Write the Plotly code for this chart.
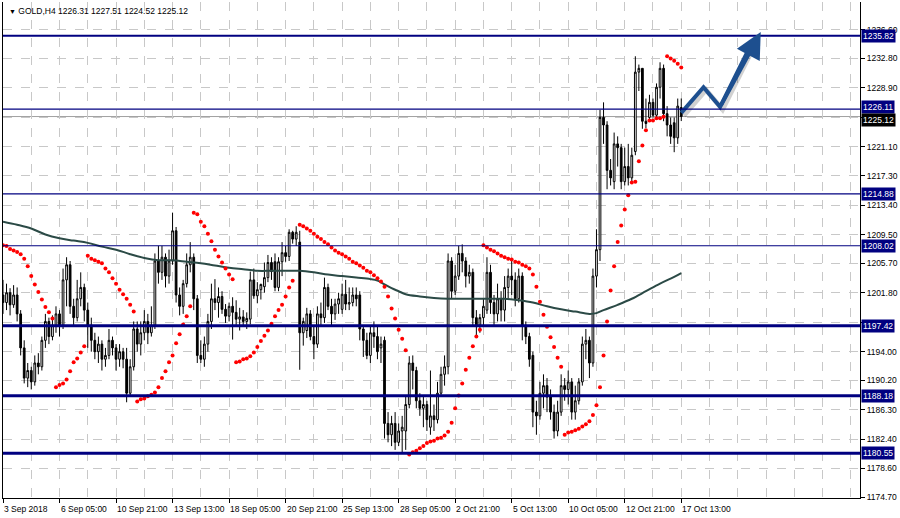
import plotly.graph_objects as go

# ---------------- data ----------------
x_labels = ["3 Sep 2018", "6 Sep 05:00", "10 Sep 21:00", "13 Sep 13:00", "18 Sep 05:00",
            "20 Sep 21:00", "25 Sep 13:00", "28 Sep 05:00", "2 Oct 21:00", "5 Oct 13:00",
            "10 Oct 05:00", "12 Oct 21:00", "17 Oct 13:00"]
x_label_bars = [0, 16, 32, 48, 64, 80, 96, 112, 128, 144, 160, 176, 192]

open_ = [1201.5, 1200.5, 1201.8, 1200.2, 1201.5, 1199.0, 1194.5, 1190.5, 1191.5, 1190.0,
         1192.5, 1192.0, 1195.5, 1198.0, 1196.0, 1197.5, 1199.0, 1197.5, 1203.5, 1205.5,
         1200.0, 1198.5, 1201.0, 1202.5, 1199.5, 1197.5, 1195.5, 1194.0, 1195.0, 1193.0,
         1193.5, 1195.5, 1194.5, 1193.0, 1194.0, 1193.0, 1188.5, 1192.0, 1197.0, 1195.0,
         1196.5, 1198.0, 1196.5, 1197.5, 1206.0, 1204.5, 1206.5, 1204.0, 1206.0, 1210.0,
         1201.5, 1200.0, 1203.0, 1205.5, 1206.5, 1201.0, 1193.5, 1193.0, 1195.0, 1198.0,
         1201.0, 1200.5, 1201.3, 1199.6, 1198.7, 1200.0, 1199.2, 1198.3, 1198.6, 1198.0,
         1198.3, 1203.5, 1201.4, 1202.2, 1202.6, 1203.8, 1205.8, 1205.9, 1202.5, 1205.9,
         1207.1, 1206.6, 1209.8, 1208.9, 1208.5, 1196.5, 1196.8, 1199.0, 1196.0, 1195.0,
         1199.0, 1198.5, 1202.5, 1200.0, 1199.0, 1200.3, 1199.6, 1201.6, 1200.3, 1200.5,
         1201.5, 1201.5, 1197.0, 1195.5, 1193.5, 1196.5, 1196.0, 1194.5, 1195.5, 1184.5,
         1183.0, 1184.5, 1182.0, 1183.5, 1183.5, 1187.0, 1192.5, 1191.5, 1187.5, 1186.5,
         1187.0, 1184.0, 1185.5, 1185.0, 1188.5, 1191.0, 1192.0, 1206.0, 1202.0, 1204.0,
         1207.0, 1206.0, 1204.0, 1204.5, 1198.5, 1197.5, 1198.5, 1199.5, 1204.5, 1200.5,
         1199.0, 1201.0, 1199.5, 1202.5, 1204.0, 1203.5, 1201.0, 1204.0, 1197.5, 1196.0,
         1193.5, 1186.0, 1185.5, 1188.5, 1189.5, 1188.0, 1186.0, 1183.5, 1186.0, 1189.5,
         1189.0, 1190.0, 1186.0, 1187.5, 1190.0, 1195.0, 1195.5, 1192.5, 1204.0, 1207.5,
         1225.0, 1224.0, 1218.0, 1216.5, 1221.5, 1221.0, 1216.5, 1218.5, 1217.0, 1220.5,
         1231.0, 1231.5, 1224.5, 1225.0, 1227.0, 1225.3, 1229.0, 1231.5, 1225.5, 1224.0,
         1224.3, 1222.3, 1226.31]
high = [1203.5, 1203.0, 1202.4, 1202.8, 1202.5, 1199.5, 1195.5, 1192.5, 1192.0, 1193.5,
        1193.8, 1196.0, 1199.0, 1198.5, 1198.8, 1200.0, 1199.5, 1205.0, 1206.5, 1206.0,
        1201.0, 1203.5, 1204.5, 1203.0, 1200.5, 1198.5, 1196.5, 1196.0, 1195.5, 1194.5,
        1197.0, 1196.0, 1195.0, 1195.0, 1194.5, 1194.5, 1193.0, 1198.0, 1198.0, 1198.0,
        1199.5, 1199.0, 1200.0, 1207.0, 1208.0, 1208.0, 1207.0, 1207.5, 1212.4, 1210.5,
        1202.5, 1203.5, 1207.0, 1208.5, 1207.0, 1201.5, 1195.5, 1196.0, 1199.0, 1203.0,
        1203.6, 1202.5, 1202.0, 1200.3, 1200.5, 1201.2, 1200.8, 1199.8, 1199.5, 1199.2,
        1204.6, 1205.0, 1203.2, 1203.0, 1205.8, 1206.8, 1206.5, 1207.0, 1206.5, 1208.5,
        1208.0, 1210.2, 1210.0, 1210.6, 1210.0, 1198.5, 1199.8, 1199.5, 1197.5, 1200.0,
        1200.5, 1203.8, 1203.0, 1201.0, 1201.0, 1201.8, 1203.0, 1203.5, 1202.5, 1202.5,
        1202.5, 1202.0, 1197.5, 1196.5, 1197.5, 1198.0, 1197.5, 1196.0, 1196.0, 1186.0,
        1185.5, 1186.0, 1184.5, 1185.5, 1188.0, 1193.4, 1193.5, 1192.0, 1188.5, 1188.0,
        1187.5, 1191.5, 1187.0, 1190.0, 1192.0, 1193.5, 1207.0, 1206.5, 1205.5, 1208.0,
        1208.2, 1206.5, 1205.5, 1205.0, 1199.5, 1199.0, 1201.0, 1206.5, 1205.5, 1201.5,
        1203.0, 1202.0, 1204.0, 1205.0, 1206.0, 1204.5, 1205.0, 1204.5, 1198.0, 1196.5,
        1194.0, 1187.5, 1190.0, 1191.0, 1190.5, 1189.0, 1187.0, 1187.5, 1191.0, 1190.5,
        1191.5, 1190.5, 1189.5, 1190.5, 1196.0, 1197.0, 1196.0, 1205.0, 1210.2, 1226.0,
        1227.0, 1224.5, 1219.5, 1223.0, 1222.5, 1221.5, 1221.0, 1221.5, 1221.0, 1233.1,
        1232.0, 1231.5, 1227.5, 1228.0, 1227.5, 1229.5, 1232.3, 1232.0, 1226.5, 1225.0,
        1225.0, 1227.5, 1227.51]
low = [1199.0, 1199.5, 1198.8, 1199.8, 1198.0, 1193.5, 1189.8, 1189.3, 1189.0, 1189.5,
       1191.0, 1191.5, 1194.5, 1195.0, 1195.5, 1196.5, 1196.0, 1197.0, 1200.0, 1199.0,
       1197.5, 1198.0, 1200.0, 1198.0, 1194.5, 1194.0, 1193.0, 1192.5, 1191.5, 1192.0,
       1193.0, 1193.5, 1191.5, 1192.0, 1191.8, 1187.3, 1188.0, 1191.5, 1194.0, 1193.5,
       1195.5, 1195.0, 1196.0, 1197.0, 1203.0, 1203.5, 1202.5, 1203.0, 1205.5, 1200.5,
       1198.8, 1199.0, 1202.5, 1204.5, 1199.5, 1192.5, 1192.5, 1192.0, 1194.0, 1197.0,
       1199.5, 1198.5, 1199.0, 1197.8, 1198.0, 1195.6, 1197.5, 1196.8, 1197.3, 1197.0,
       1197.6, 1201.0, 1200.4, 1200.9, 1201.8, 1203.2, 1203.5, 1202.0, 1202.0, 1204.0,
       1205.9, 1206.0, 1208.3, 1208.0, 1191.6, 1194.8, 1195.8, 1195.5, 1193.0, 1194.5,
       1197.5, 1197.8, 1199.5, 1197.5, 1198.2, 1199.0, 1199.0, 1199.5, 1199.5, 1200.0,
       1200.0, 1195.5, 1193.3, 1193.0, 1192.5, 1194.5, 1193.0, 1192.5, 1182.5, 1182.0,
       1181.5, 1181.0, 1181.5, 1180.5, 1181.0, 1186.5, 1189.0, 1186.5, 1185.5, 1184.0,
       1183.5, 1183.0, 1183.5, 1184.5, 1188.0, 1189.5, 1191.0, 1201.0, 1201.5, 1203.5,
       1204.5, 1202.5, 1203.0, 1197.5, 1196.0, 1196.5, 1197.5, 1199.0, 1199.0, 1197.5,
       1198.0, 1198.0, 1198.0, 1201.0, 1201.5, 1200.0, 1200.5, 1195.5, 1195.0, 1192.0,
       1184.0, 1183.0, 1185.0, 1186.5, 1186.0, 1185.0, 1182.5, 1182.8, 1185.5, 1187.5,
       1187.0, 1185.0, 1185.0, 1187.0, 1189.5, 1193.0, 1190.5, 1192.0, 1202.5, 1206.0,
       1221.5, 1215.5, 1216.0, 1215.5, 1218.5, 1215.5, 1216.0, 1216.0, 1216.5, 1220.0,
       1228.5, 1223.5, 1223.6, 1224.8, 1225.0, 1225.0, 1227.5, 1224.5, 1222.5, 1221.5,
       1220.4, 1221.5, 1224.52]
close = [1200.5, 1201.8, 1200.2, 1201.5, 1199.0, 1194.5, 1190.5, 1191.5, 1190.0, 1192.5,
         1192.0, 1195.5, 1198.0, 1196.0, 1197.5, 1199.0, 1197.5, 1203.5, 1205.5, 1200.0,
         1198.5, 1201.0, 1202.5, 1199.5, 1197.5, 1195.5, 1194.0, 1195.0, 1193.0, 1193.5,
         1195.5, 1194.5, 1193.0, 1194.0, 1193.0, 1188.5, 1192.0, 1197.0, 1195.0, 1196.5,
         1198.0, 1196.5, 1197.5, 1206.0, 1204.5, 1206.5, 1204.0, 1206.0, 1210.0, 1201.5,
         1200.0, 1203.0, 1205.5, 1206.5, 1201.0, 1193.5, 1193.0, 1195.0, 1198.0, 1201.0,
         1200.5, 1201.3, 1199.6, 1198.7, 1200.0, 1199.2, 1198.3, 1198.6, 1198.0, 1198.4,
         1203.5, 1201.4, 1202.2, 1202.9, 1203.8, 1205.8, 1204.6, 1202.5, 1205.9, 1207.1,
         1206.6, 1209.8, 1208.9, 1209.8, 1196.5, 1198.0, 1199.0, 1196.0, 1195.0, 1199.0,
         1198.5, 1202.5, 1200.0, 1199.0, 1200.3, 1201.0, 1201.6, 1200.3, 1200.5, 1201.5,
         1201.0, 1197.0, 1195.5, 1193.5, 1196.5, 1196.0, 1194.0, 1195.0, 1184.5, 1183.0,
         1184.5, 1182.0, 1183.5, 1184.0, 1187.0, 1192.5, 1191.5, 1187.5, 1186.5, 1187.0,
         1185.0, 1185.5, 1185.0, 1188.5, 1191.0, 1192.0, 1206.0, 1202.0, 1204.0, 1207.0,
         1206.0, 1204.0, 1204.5, 1198.5, 1197.5, 1198.5, 1200.0, 1204.5, 1200.5, 1199.0,
         1201.0, 1199.5, 1202.5, 1204.0, 1203.5, 1201.0, 1204.0, 1197.5, 1196.0, 1193.0,
         1186.0, 1185.5, 1188.5, 1189.5, 1188.0, 1186.0, 1183.5, 1186.0, 1189.5, 1189.0,
         1190.0, 1186.0, 1187.5, 1190.0, 1195.0, 1195.5, 1192.5, 1204.0, 1207.5, 1225.0,
         1224.0, 1218.0, 1217.0, 1221.5, 1221.0, 1216.5, 1218.5, 1217.0, 1220.0, 1231.0,
         1231.5, 1224.5, 1224.2, 1227.0, 1225.3, 1229.0, 1231.5, 1225.5, 1224.0, 1222.5,
         1222.3, 1226.5, 1225.12]

sar = [1208.1, 1208.0, 1207.6, 1207.4, 1207.2, 1206.9, 1206.3, 1205.3, 1204.0, 1202.9,
       1201.9, 1200.9, 1199.9, 1199.2, 1198.4,
       1189.3, 1189.6, 1189.8, 1190.3, 1191.4, 1192.6, 1193.1, 1193.9, 1194.7,
       1206.7, 1206.3, 1206.1, 1205.9, 1205.7, 1205.0, 1204.5, 1203.7, 1203.0, 1202.2,
       1201.6, 1201.0, 1200.2, 1199.3,
       1187.4, 1187.7, 1187.8, 1188.1, 1188.3, 1188.6, 1189.3, 1190.5, 1191.4, 1192.6,
       1193.5, 1195.1, 1196.3, 1197.6, 1198.7, 1200.0,
       1212.4, 1212.2, 1211.2, 1210.6, 1209.6, 1208.6, 1207.5, 1206.6, 1205.8, 1205.0,
       1204.2, 1203.6,
       1192.6, 1192.7, 1193.0, 1193.1, 1193.4, 1193.9, 1194.6, 1195.4, 1196.1, 1196.8,
       1197.7, 1198.7, 1199.5, 1200.2, 1201.3, 1202.5, 1203.4,
       None,
       1210.8, 1210.6, 1210.3, 1210.0, 1209.6, 1209.2, 1208.9, 1208.5, 1208.2, 1207.8,
       1207.4, 1207.1, 1206.9, 1206.6, 1206.3, 1205.9, 1205.7, 1205.4, 1205.1, 1204.7,
       1204.5, 1204.1, 1203.7, 1203.3, 1202.6, 1201.3, 1199.7, 1198.4, 1196.9, 1195.7,
       1194.2,
       1180.4, 1180.7, 1180.9, 1181.2, 1181.5, 1181.9, 1182.1, 1182.2, 1182.5, 1182.6,
       1182.9, 1183.4, 1184.6, 1186.5, 1188.2, 1189.8, 1191.6, 1193.2, 1194.7, 1196.0,
       1196.9,
       1208.1, 1207.8, 1207.5, 1207.3, 1207.0, 1206.7, 1206.5, 1206.3, 1206.2, 1205.9,
       1205.8, 1205.5, 1205.3, 1205.0, 1204.2, 1202.6, 1200.6, 1198.9, 1197.3, 1195.9,
       1194.6, 1193.2, 1192.0,
       1183.0, 1183.3, 1183.4, 1183.6, 1183.8, 1184.1, 1184.4, 1184.8, 1185.6, 1186.9,
       1189.3, 1193.5, 1198.0, 1202.1, 1205.3, 1208.5, 1210.7, 1212.8, 1214.7, 1216.4,
       1216.5, 1219.2, 1221.3, 1223.3, 1224.6, 1224.6, 1224.9, 1224.9, 1225.1,
       1233.1, 1232.8, 1232.5, 1232.1, 1231.6]

ma_bars = [0, 4, 8, 12, 16, 20, 24, 28, 32, 36, 40, 44, 48, 52, 56, 60, 64, 68, 72, 76, 80,
           84, 88, 92, 96, 100, 104, 106, 108, 110, 112, 114, 118, 122, 126, 130, 134, 138,
           142, 146, 150, 154, 158, 162, 166, 168, 170, 174, 178, 182, 186, 190, 192]
ma_vals = [1211.2, 1210.8, 1210.3, 1209.5, 1209.0, 1208.7, 1208.4, 1207.9, 1207.5, 1206.9,
           1206.4, 1206.1, 1206.1, 1205.9, 1205.7, 1205.4, 1205.1, 1204.9, 1204.7, 1204.7,
           1204.7, 1204.7, 1204.5, 1204.2, 1204.0, 1203.8, 1203.6, 1203.4, 1202.9, 1202.4,
           1202.0, 1201.6, 1201.3, 1201.1, 1201.0, 1201.0, 1201.0, 1201.0, 1201.0, 1200.8,
           1200.5, 1200.0, 1199.6, 1199.3, 1199.0, 1199.1, 1199.5, 1200.2, 1201.0, 1202.0,
           1203.0, 1203.9, 1204.4]

levels = [1235.82, 1226.11, 1214.88, 1208.02, 1197.42, 1188.18, 1180.55]
level_widths = [2, 1.2, 1.2, 1.2, 3, 3, 3]
bid = 1225.12

y_ticks = [1174.70, 1178.60, 1182.40, 1186.30, 1190.20, 1194.00, 1197.90, 1201.80,
           1205.70, 1209.50, 1213.40, 1217.30, 1221.10, 1225.00, 1228.90, 1232.80, 1236.60]
y_hidden = [1197.90, 1225.00]

arrow_bars = [192, 198.3, 203.0, 211.5]
arrow_prices = [1225.6, 1229.0, 1226.4, 1234.4]
arrow_tip = (214.5, 1236.3)

title_text = "GOLD,H4 1226.31 1227.51 1224.52 1225.12"

# ---------------- figure ----------------
bars = list(range(len(close)))
NAVY = "#000080"
ARROW = "#1d4f8f"
FONT = "Liberation Sans"
FS = 8.5

fig = go.Figure()

fig.add_trace(go.Scatter(x=ma_bars, y=ma_vals, mode="lines",
                         line=dict(color="#2b4a46", width=2, shape="spline"),
                         hoverinfo="skip", showlegend=False))

fig.add_trace(go.Candlestick(
    x=bars, open=open_, high=high, low=low, close=close,
    increasing=dict(line=dict(color="black", width=1), fillcolor="white"),
    decreasing=dict(line=dict(color="black", width=1), fillcolor="black"),
    whiskerwidth=0, showlegend=False))

fig.add_trace(go.Scatter(x=bars, y=sar, mode="markers",
                         marker=dict(color="#ff0000", size=4, symbol="circle", line=dict(width=0)),
                         showlegend=False, hoverinfo="skip"))

# arrow shadow (small offset down-right) and arrow
fig.add_trace(go.Scatter(x=[b + 0.7 for b in arrow_bars], y=[p - 0.35 for p in arrow_prices],
                         mode="lines", line=dict(color="rgba(0,0,0,0.18)", width=5),
                         showlegend=False, hoverinfo="skip"))
fig.add_trace(go.Scatter(x=arrow_bars, y=arrow_prices, mode="lines",
                         line=dict(color=ARROW, width=4), showlegend=False, hoverinfo="skip"))
fig.add_annotation(x=arrow_tip[0], y=arrow_tip[1], ax=arrow_bars[-2], ay=arrow_prices[-2],
                   xref="x", yref="y", axref="x", ayref="y", text="", showarrow=True,
                   arrowhead=2, arrowsize=1.3, arrowwidth=4, arrowcolor=ARROW)

shapes = []
for lv, w in zip(levels, level_widths):
    shapes.append(dict(type="line", xref="paper", x0=0, x1=1, yref="y", y0=lv, y1=lv,
                       line=dict(color=NAVY, width=w), layer="above"))
shapes.append(dict(type="line", xref="paper", x0=0, x1=1, yref="y", y0=bid, y1=bid,
                   line=dict(color="#a0a0a0", width=1), layer="below"))

annotations = []
for lv in levels:
    annotations.append(dict(xref="paper", x=1, xanchor="left", xshift=1, yref="y", y=lv,
                            yanchor="middle", yshift=(2 if lv == 1226.11 else 0),
                            text=f"{lv:.2f}", showarrow=False,
                            font=dict(family=FONT, size=FS, color="white"),
                            bgcolor=NAVY, borderpad=1))
annotations.append(dict(xref="paper", x=1, xanchor="left", xshift=1, yref="y", y=bid,
                        yanchor="middle", yshift=-3, text=f"{bid:.2f}", showarrow=False,
                        font=dict(family=FONT, size=FS, color="white"),
                        bgcolor="black", borderpad=1))
for b, lab in zip(x_label_bars, x_labels):
    annotations.append(dict(xref="x", x=b, xanchor="left", xshift=-1, yref="paper", y=0,
                            yanchor="top", yshift=-4, text=lab, showarrow=False,
                            font=dict(family=FONT, size=FS, color="black")))
annotations.append(dict(xref="paper", x=0, xanchor="left", xshift=4, yref="paper", y=1,
                        yanchor="top", yshift=-2,
                        text="<span style='font-size:7px'>▼</span> " + title_text,
                        showarrow=False, font=dict(family=FONT, size=FS, color="black")))
for a in annotations:
    fig.add_annotation(**a)

fig.update_layout(
    width=900, height=518,
    margin=dict(l=3, r=38, t=2, b=20),
    paper_bgcolor="white", plot_bgcolor="white",
    shapes=shapes,
    showlegend=False,
    xaxis=dict(range=[0, 242.6], rangeslider=dict(visible=False),
               tickvals=x_label_bars, ticktext=[""] * len(x_label_bars),
               ticks="outside", ticklen=4, tickcolor="black",
               showgrid=False, zeroline=False,
               showline=True, linecolor="black", linewidth=1,
               minor=dict(dtick=8, tick0=0, showgrid=True, gridcolor="#c8c8c8",
                          griddash="dash", gridwidth=1, ticks="")),
    yaxis=dict(range=[1174.63, 1240.28], side="right",
               tickvals=y_ticks,
               ticktext=["" if t in y_hidden else f"{t:.2f}" for t in y_ticks],
               ticks="outside", ticklen=4, tickcolor="black",
               tickfont=dict(family=FONT, size=FS, color="black"),
               showgrid=True, gridcolor="#c8c8c8", griddash="dash", gridwidth=1,
               zeroline=False, showline=True, linecolor="black", linewidth=1, mirror=True),
)

post = ("document.body.style.margin='0';document.body.style.padding='0';"
        "document.body.style.overflow='hidden';"
        "var gd=document.getElementById('{plot_id}');"
        "Plotly.relayout(gd,{width:900,height:518});")
fig.write_html("out.html", config={"responsive": False, "displayModeBar": False},
               post_script=post)
